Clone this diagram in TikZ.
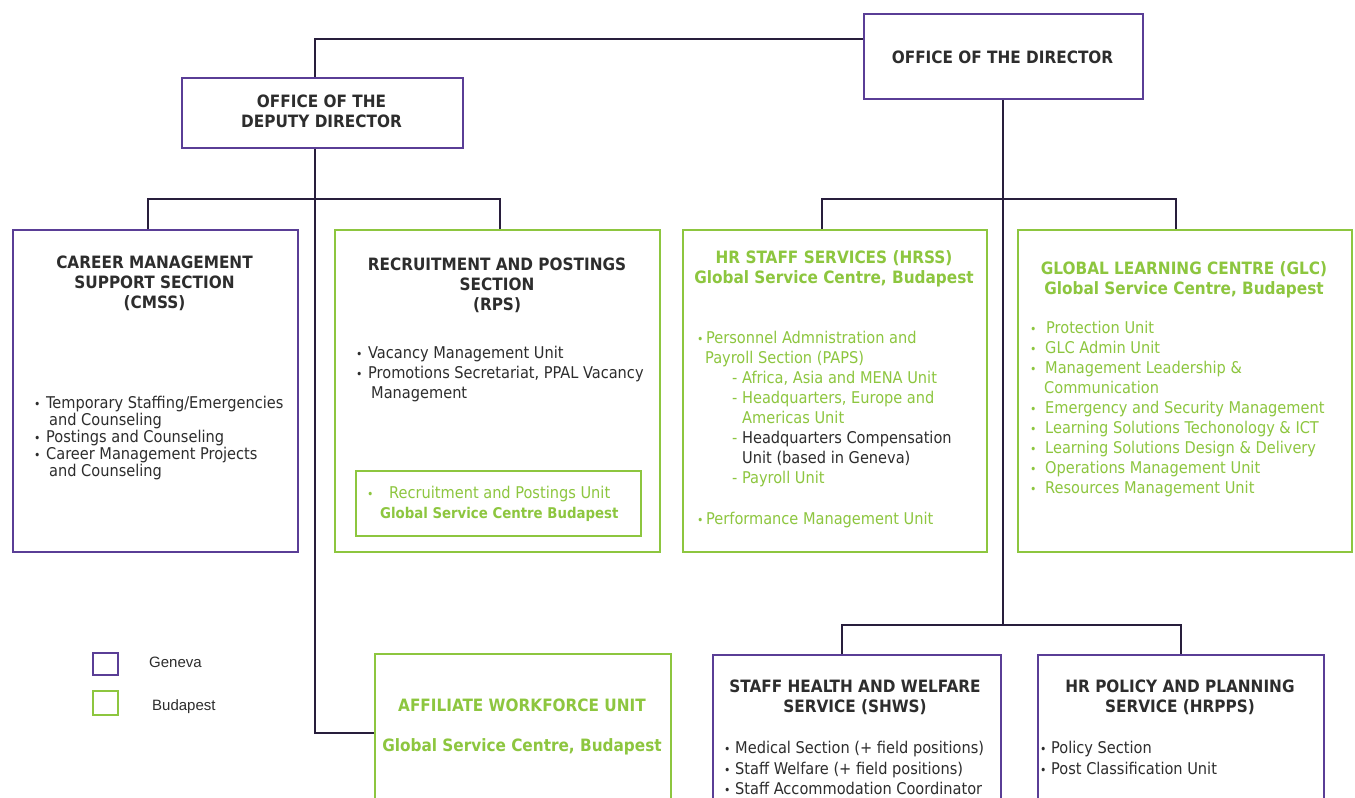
\documentclass[tikz,border=0pt]{standalone}
\usepackage{fontspec}
\setmainfont{DejaVu Sans Condensed}
\newfontfamily\legendfont{Liberation Sans}
\definecolor{gpurple}{RGB}{90,62,150}
\definecolor{ggreen}{RGB}{141,198,63}
\definecolor{gtext}{RGB}{45,45,45}
\definecolor{gline}{RGB}{40,30,60}
\newcommand\obul[1][12pt]{\makebox[#1][l]{\fontsize{12}{12}\selectfont •}}
\begin{document}
\begin{tikzpicture}[x=1pt,y=-1pt,
 pbox/.style={draw=gpurple,line width=2pt,inner sep=0pt,anchor=north west},
 gbox/.style={draw=ggreen,line width=2pt,inner sep=0pt,anchor=north west},
 conn/.style={draw=gline,line width=1.6pt},
 head/.style={font=\fontsize{17}{20}\bfseries\selectfont, text=gtext, align=center, inner sep=0pt},
 ghead/.style={head, text=ggreen},
 body/.style={font=\fontsize{16.2}{20}\selectfont, text=gtext, align=left, inner sep=0pt, anchor=north west},
 gbody/.style={body,text=ggreen},
 legtxt/.style={font=\legendfont\fontsize{15}{18}\selectfont, text=gtext, inner sep=0pt, anchor=west},
]
\useasboundingbox (0,0) rectangle (1355,798);
\clip (0,0) rectangle (1355,798);
\fill[white] (0,0) rectangle (1355,798);

% boxes
\node[pbox, minimum width=279pt, minimum height=85pt] (dir) at (863,13) {};
\node[pbox, minimum width=281pt, minimum height=70pt] (dep) at (181,77) {};
\node[pbox, minimum width=285pt, minimum height=322pt] (cmss) at (12,229) {};
\node[gbox, minimum width=325pt, minimum height=322pt] (rps) at (334,229) {};
\node[gbox, minimum width=285pt, minimum height=65pt] (rpsin) at (355,470) {};
\node[gbox, minimum width=304pt, minimum height=322pt] (hrss) at (682,229) {};
\node[gbox, minimum width=334pt, minimum height=322pt] (glc) at (1017,229) {};
\node[gbox, minimum width=296pt, minimum height=170pt] (aff) at (374,653) {};
\node[pbox, minimum width=288pt, minimum height=170pt] (shws) at (712,654) {};
\node[pbox, minimum width=286pt, minimum height=170pt] (hrpps) at (1037,654) {};
\node[pbox, minimum width=25pt, minimum height=22pt] (legG) at (92,652) {};
\node[gbox, minimum width=25pt, minimum height=24pt] (legB) at (92,690) {};

% junctions
\coordinate (topj) at (315,39);
\coordinate (affj) at (315,733);
\coordinate (dL) at (148,199);
\coordinate (dM) at (315,199);
\coordinate (dR) at (500,199);
\coordinate (rj) at (1003,199);
\coordinate (rL) at (822,199);
\coordinate (rR) at (1176,199);
\coordinate (bj) at (1003,625);
\coordinate (bL) at (842,625);
\coordinate (bR) at (1181,625);

% connectors
\draw[conn] (topj -| dir.west) -- (topj) -- (topj |- dep.north);
\draw[conn] (dM |- dep.south) -- (affj) -- (affj -| aff.west);
\draw[conn] (dL |- cmss.north) -- (dL) -- (dR) -- (dR |- rps.north);
\draw[conn] (rj |- dir.south) -- (bj);
\draw[conn] (rL |- hrss.north) -- (rL) -- (rR) -- (rR |- glc.north);
\draw[conn] (bL |- shws.north) -- (bL) -- (bR) -- (bR |- hrpps.north);

% titles
\node[head] (dirT) at (1002.5,57) {OFFICE OF THE DIRECTOR};
\node[head] (depT) at (321.5,111) {OFFICE OF THE\\DEPUTY DIRECTOR};
\node[head] (cmssT) at (154.5,283) {CAREER MANAGEMENT\\SUPPORT SECTION\\(CMSS)};
\node[head] (rpsT) at (497,285) {RECRUITMENT AND POSTINGS\\SECTION\\(RPS)};
\node[ghead] (hrssT) at (834,269) {HR STAFF SERVICES (HRSS)\\Global Service Centre, Budapest};
\node[ghead] (glcT) at (1184,280) {GLOBAL LEARNING CENTRE (GLC)\\Global Service Centre, Budapest};
\node[ghead] (affT) at (522,727) {AFFILIATE WORKFORCE UNIT\\[20pt]Global Service Centre, Budapest};
\node[head] (shwsT) at (855,697) {STAFF HEALTH AND WELFARE\\SERVICE (SHWS)};
\node[head] (hrppsT) at (1180,697) {HR POLICY AND PLANNING\\SERVICE (HRPPS)};

% bodies
\node[body, font=\fontsize{16.2}{17}\selectfont] (cmssB) at (34,396) {\obul Temporary Staffing/Emergencies\\\hspace*{15pt}and Counseling\\\obul Postings and Counseling\\\obul Career Management Projects\\\hspace*{15pt}and Counseling};
\node[body] (rpsB) at (356,346) {\obul Vacancy Management Unit\\\obul Promotions Secretariat, PPAL Vacancy\\\hspace*{15pt}Management};
\node[gbody] (rpsinB) at (367,486) {\obul[22pt]Recruitment and Postings Unit\\\hspace*{13pt}{\fontsize{14.8}{20}\bfseries\selectfont Global Service Centre Budapest}};
\node[gbody] (hrssB) at (697,331) {\obul[9pt]Personnel Admnistration and\\
\hspace*{8pt}Payroll Section (PAPS)\\
\hspace*{35pt}- Africa, Asia and MENA Unit\\
\hspace*{35pt}- Headquarters, Europe and\\
\hspace*{45pt}Americas Unit\\
\hspace*{35pt}- {\color{gtext}Headquarters Compensation}\\
\hspace*{45pt}{\color{gtext}Unit (based in Geneva)}\\
\hspace*{35pt}- Payroll Unit\\[21pt]
\obul[9pt]Performance Management Unit};
\node[gbody] (glcB) at (1030,321) {\obul[16pt]Protection Unit\\\obul[15pt]GLC Admin Unit\\\obul[15pt]Management Leadership \&\\\hspace*{14pt}Communication\\\obul[15pt]Emergency and Security Management\\\obul[15pt]Learning Solutions Techonology \& ICT\\\obul[15pt]Learning Solutions Design \& Delivery\\\obul[15pt]Operations Management Unit\\\obul[15pt]Resources Management Unit};
\node[body, font=\fontsize{16.2}{20.5}\selectfont] (shwsB) at (724,741) {\obul[11pt]Medical Section (+ field positions)\\\obul[11pt]Staff Welfare (+ field positions)\\\obul[11pt]Staff Accommodation Coordinator};
\node[body, font=\fontsize{16.2}{20.5}\selectfont] (hrppsB) at (1040,741) {\obul[11pt]Policy Section\\\obul[11pt]Post Classification Unit};

% legend
\node[legtxt] (legGT) at (149,662) {Geneva};
\node[legtxt] (legBT) at (152,707) {Budapest};
\end{tikzpicture}
\end{document}
